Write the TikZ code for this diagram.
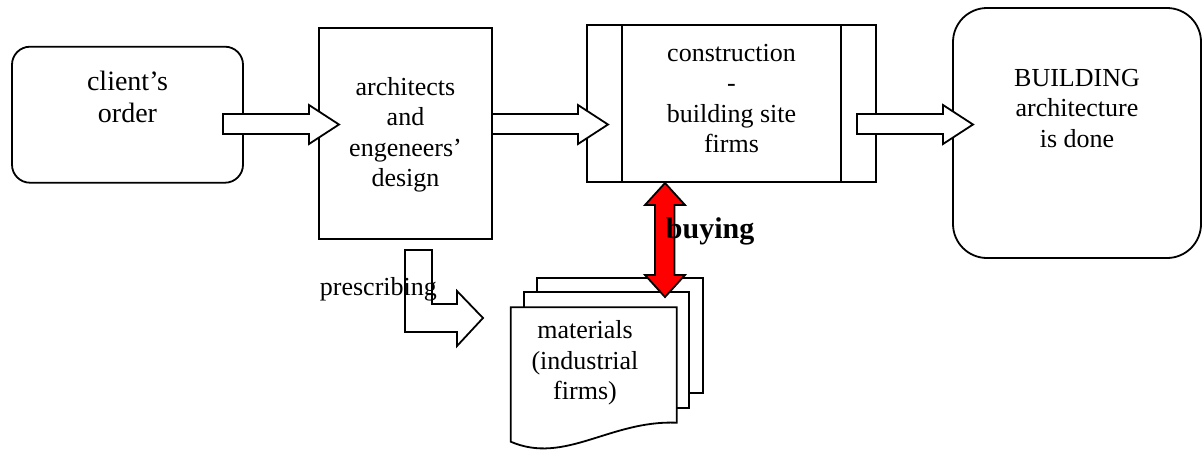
\documentclass[tikz,border=0pt]{standalone}
\usepackage{fontspec}
\setmainfont{Liberation Serif}
\begin{document}
\begin{tikzpicture}[x=1pt,y=-1pt,
  line width=1.8pt,
  box/.style={draw=black, fill=white, inner sep=0pt, line width=1.8pt},
  txt/.style={align=center, inner sep=0pt, font=\fontsize{26}{30.5}\selectfont},
  blockarrow/.style={draw=black, fill=white, line width=1.8pt, line join=miter},
  redarrow/.style={draw=black, fill=red, line width=1.8pt, line join=miter},
  page/.style={draw=black, fill=white, line width=1.8pt}]
\useasboundingbox (0,0) rectangle (1204,451);

% boxes
\node[box, rounded corners=18pt, minimum width=231pt, minimum height=136pt] (client) at (127.5,114.7) {};
\node[box, minimum width=173pt, minimum height=211pt] (arch) at (405.5,133.5) {};
\node[box, minimum width=289pt, minimum height=157pt] (constr) at (731.5,103.5) {};
\draw[line width=1.6pt] (622,25) -- (622,182) (841,25) -- (841,182);
\node[box, rounded corners=34pt, minimum width=248pt, minimum height=250pt] (build) at (1077,133) {};

% texts
\node[txt, font=\fontsize{28}{31.5}\selectfont] (tclient) at (127.5,97) {client’s\\order};
\node[txt] (tarch) at (405.5,135) {architects\\and\\engeneers’\\design};
\node[txt] (tconstr) at (731.5,98.5) {construction\\-\\building site\\firms};
\node[txt] (tbuild) at (1077,108.5) {BUILDING\\architecture\\is done};

% block arrows
\draw[blockarrow] (223,114) -- (309,114) -- (309,105) -- (339,124.5) -- (309,144) -- (309,134) -- (223,134) -- cycle;
\draw[blockarrow] (492,114) -- (578,114) -- (578,105) -- (608,124.5) -- (578,144) -- (578,134) -- (492,134) -- cycle;
\draw[blockarrow] (857,114) -- (943,114) -- (943,105) -- (973,124.5) -- (943,144) -- (943,134) -- (857,134) -- cycle;

% prescribing bent arrow
\draw[blockarrow] (405,250) -- (432,250) -- (432,304) -- (457,304) -- (457,291) -- (483,318) -- (457,346) -- (457,332) -- (405,332) -- cycle;
\node[txt, anchor=base west] (tpresc) at (319,295) {prescribing};

% materials multi-document
\draw[page] (536.7,277.7) rectangle (703.3,393.3);
\draw[page] (524.3,292.3) rectangle (689.3,408.3);
\draw[page] (510.7,307.3) -- (676.7,307.3) -- (676.7,422.7) .. controls (610,420) and (565,465) .. (510.7,441.7) -- cycle;
\node[txt] (tmat) at (585,363) {materials\\(industrial\\firms)};

% buying double arrow
\draw[redarrow] (665,183) -- (685,205) -- (674.5,205) -- (674.5,275) -- (685,275) -- (665,297) -- (645,275) -- (655,275) -- (655,205) -- (645,205) -- cycle;
\node[anchor=base west, inner sep=0pt, font=\bfseries\fontsize{30}{34}\selectfont] (tbuy) at (665,238) {buying};
\end{tikzpicture}
\end{document}
